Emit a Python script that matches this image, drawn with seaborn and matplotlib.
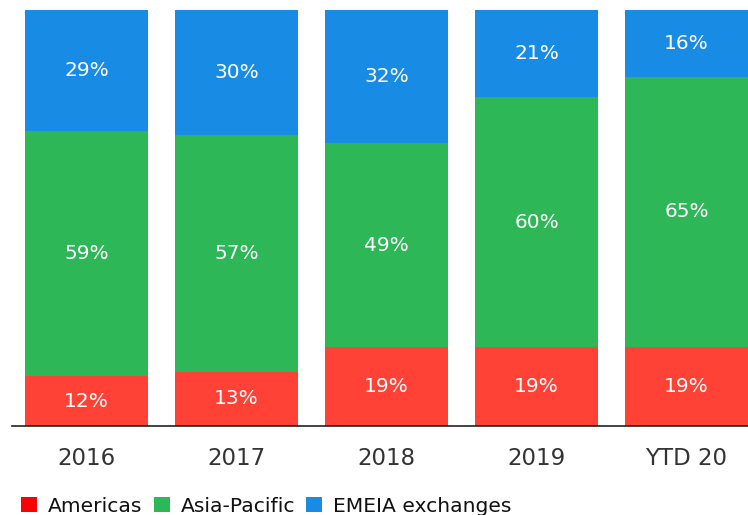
import numpy as np
import pandas as pd
import seaborn as sns
import matplotlib.pyplot as plt
from matplotlib.patches import Patch

# Chart data
years = ["2016", "2017", "2018", "2019", "YTD 20"]
americas = [12, 13, 19, 19, 19]
asia_pacific = [59, 57, 49, 60, 65]
emeia = [29, 30, 32, 21, 16]

series_names = ["Americas", "Asia-Pacific", "EMEIA exchanges"]
colors = ["#ff4136", "#2db757", "#188ce5"]
legend_colors = ["#ff0000", "#2db757", "#188ce5"]

df = pd.DataFrame(
    {"year": years, "Americas": americas, "Asia-Pacific": asia_pacific,
     "EMEIA exchanges": emeia}
)
# Cumulative tops for stacking (draw tallest first so lower ones overlay it)
df["top_am"] = df["Americas"]
df["top_ap"] = df["Americas"] + df["Asia-Pacific"]
df["top_em"] = df["top_ap"] + df["EMEIA exchanges"]

sns.set_style("white")
plt.rcParams["font.family"] = ["DejaVu Sans"]

fig = plt.figure(figsize=(7.48, 5.15), dpi=100)
ax = fig.add_axes([12 / 748, 89 / 515, 736 / 748, 416 / 515])

for col, color in zip(["top_em", "top_ap", "top_am"], colors[::-1]):
    sns.barplot(
        ax=ax, data=df, x="year", y=col, order=years,
        color=color, width=0.82, saturation=1, linewidth=0, errorbar=None,
    )

# Segment labels
bottoms = np.zeros(len(years))
for vals in [americas, asia_pacific, emeia]:
    for i, v in enumerate(vals):
        ax.text(i, bottoms[i] + v / 2, f"{v}%", ha="center", va="center",
                color="white", fontsize=14.5)
    bottoms += np.array(vals)

ax.set_xlim(-0.497, 4.41)
ax.set_ylim(0, 100)
ax.set_xlabel("")
ax.set_ylabel("")
ax.set_yticks([])
for side in ["top", "right", "left"]:
    ax.spines[side].set_visible(False)
ax.spines["bottom"].set_color("#222222")
ax.spines["bottom"].set_linewidth(1.2)
ax.tick_params(axis="x", length=0, pad=15, labelsize=16.5, labelcolor="#333333")

handles = [Patch(facecolor=c, edgecolor="none") for c in legend_colors]
fig.legend(
    handles, series_names, loc="lower left", bbox_to_anchor=(0.004, -0.037),
    ncol=3, frameon=False, fontsize=14.6, handlelength=0.78, handleheight=0.78,
    handletextpad=0.55, columnspacing=0.55, labelcolor="#111111",
)

fig.savefig("out.png", dpi=100)
